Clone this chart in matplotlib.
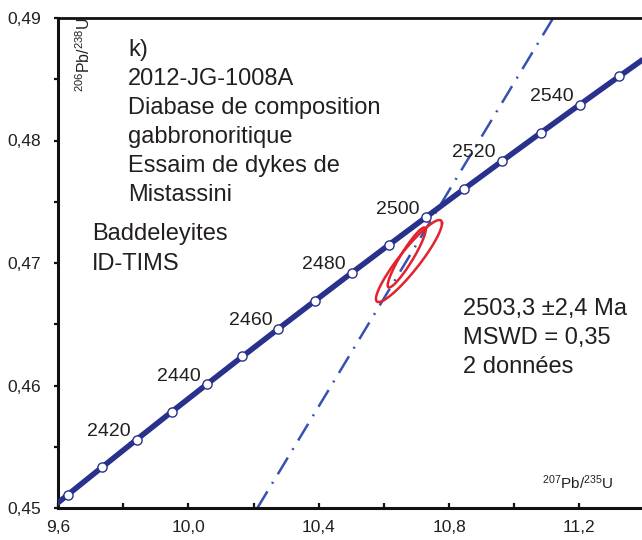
import numpy as np
import matplotlib
matplotlib.use("Agg")
import matplotlib.pyplot as plt
from matplotlib.ticker import FixedLocator, FuncFormatter

plt.rcParams['font.family'] = ['Liberation Sans', 'DejaVu Sans']
plt.rcParams['mathtext.fontset'] = 'custom'
plt.rcParams['mathtext.rm'] = 'Liberation Sans'
plt.rcParams['mathtext.it'] = 'Liberation Sans:italic'
plt.rcParams['lines.scale_dashes'] = False

# ---- data ----
# concordia curve (Ma) and its coordinates
conc_ages = [2390, 2400, 2410, 2420, 2430, 2440, 2450, 2460, 2470, 2480, 2490,
             2500, 2510, 2520, 2530, 2540, 2550, 2560]
conc_x = [9.5254, 9.6296, 9.7348, 9.8410, 9.9483, 10.0567, 10.1661, 10.2766,
          10.3883, 10.5010, 10.6148, 10.7297, 10.8458, 10.9631, 11.0815,
          11.2011, 11.3218, 11.4438]
conc_y = [0.44882, 0.45107, 0.45332, 0.45558, 0.45784, 0.46010, 0.46237,
          0.46464, 0.46691, 0.46919, 0.47147, 0.47375, 0.47604, 0.47833,
          0.48063, 0.48293, 0.48523, 0.48754]
marker_ages = [2400, 2410, 2420, 2430, 2440, 2450, 2460, 2470, 2480, 2490,
               2500, 2510, 2520, 2530, 2540, 2550]
label_ages = [2420, 2440, 2460, 2480, 2500, 2520, 2540]

# discordia: lower intercept (0 Ma) and upper intercept (2503.3 Ma)
disc_x = [0.0, 10.768]
disc_y = [0.0, 0.47451]

# analyses (2-sigma error ellipses): x, sx, y, sy, rho
ell_x = [10.677, 10.670]
ell_sx = [0.1013, 0.0583]
ell_y = [0.47016, 0.47045]
ell_sy = [0.00335, 0.00245]
ell_rho = [0.92, 0.925]

xticks = [9.6, 10.0, 10.4, 10.8, 11.2]
xminor = [9.8, 10.2, 10.6, 11.0]
yticks = [0.45, 0.46, 0.47, 0.48, 0.49]
yminor = [0.455, 0.465, 0.475, 0.485]

title_lines = ["k)", "2012-JG-1008A", "Diabase de composition", "gabbronoritique",
               "Essaim de dykes de", "Mistassini"]
method_lines = ["Baddeleyites", "ID-TIMS"]
result_lines = ["2503,3 \u00b12,4 Ma", "MSWD = 0,35", "2 données"]

# ---- figure ----
W, H = 642, 540
fig = plt.figure(figsize=(W / 100, H / 100), dpi=100)
ax = fig.add_axes([58 / W, 32 / H, 1 - 58 / W, 490 / H])
ax.set_xlim(9.6, 11.392)
ax.set_ylim(0.45, 0.49)

NAVY = '#28318c'
BLUE = '#3652b0'
RED = '#e3222b'
TXT = '#231f20'

# discordia
ax.axline((disc_x[0], disc_y[0]), (disc_x[1], disc_y[1]), color=BLUE, lw=1.8,
          linestyle=(0, (14, 6.5, 1.4, 6.5)), zorder=2)

# ellipses
t = np.linspace(0, 2 * np.pi, 300)
for cx, sx, cy, sy, r in zip(ell_x, ell_sx, ell_y, ell_sy, ell_rho):
    ex = cx + sx * np.cos(t)
    ey = cy + sy * (r * np.cos(t) + np.sqrt(1 - r * r) * np.sin(t))
    ax.plot(ex, ey, color=RED, lw=1.8, zorder=3)

# concordia
ax.plot(conc_x, conc_y, color=NAVY, lw=4.0, solid_capstyle='butt', zorder=4)
mx = [conc_x[conc_ages.index(a)] for a in marker_ages]
my = [conc_y[conc_ages.index(a)] for a in marker_ages]
ax.plot(mx, my, 'o', ms=6.6, mfc='white', mec=NAVY, mew=1.0, zorder=5)
for a in label_ages:
    i = conc_ages.index(a)
    ax.annotate(str(a), (conc_x[i], conc_y[i]), xytext=(-4.5, 2.5),
                textcoords='offset points', ha='right', va='baseline',
                fontsize=14, color=TXT, zorder=6)

# axes styling
ax.spines['right'].set_visible(False)
ax.spines['left'].set_linewidth(2.2)
ax.spines['bottom'].set_linewidth(2.2)
ax.spines['top'].set_linewidth(2.0)
for s in ax.spines.values():
    s.set_color('#111111')

ax.xaxis.set_major_locator(FixedLocator(xticks))
ax.xaxis.set_minor_locator(FixedLocator(xminor))
ax.yaxis.set_major_locator(FixedLocator(yticks))
ax.yaxis.set_minor_locator(FixedLocator(yminor))
ax.xaxis.set_major_formatter(FuncFormatter(lambda v, p: f"{v:.1f}".replace('.', ',')))
ax.yaxis.set_major_formatter(FuncFormatter(lambda v, p: f"{v:.2f}".replace('.', ',')))
ax.tick_params(axis='x', which='both', direction='in', length=3.5, width=1.6,
               top=False, labelsize=12.5, pad=9, colors='#111111', labelcolor=TXT)
ax.tick_params(axis='y', which='both', direction='out', length=3, width=1.6,
               right=False, labelsize=12.5, pad=9, colors='#111111', labelcolor=TXT)


def fx(x):
    return x / W


def fy(y):
    return 1 - y / H


# axis labels
fig.text(fx(84), fy(55), r'$\mathrm{^{206}Pb/^{238}U}$', rotation=90,
         ha='center', va='center', fontsize=11.5, color=TXT)
fig.text(fx(578), fy(483), r'$\mathrm{^{207}Pb/^{235}U}$',
         ha='center', va='center', fontsize=11, color=TXT)

# annotation texts
for i, s in enumerate(title_lines):
    fig.text(fx(128), fy(56 + 29 * i), s, ha='left', va='baseline',
             fontsize=17, color=TXT)
for i, s in enumerate(method_lines):
    fig.text(fx(92), fy(240 + 30 * i), s, ha='left', va='baseline',
             fontsize=17, color=TXT)
for i, s in enumerate(result_lines):
    fig.text(fx(463), fy(315 + 29 * i), s, ha='left', va='baseline',
             fontsize=17, color=TXT)

fig.savefig('out.png', dpi=100)
